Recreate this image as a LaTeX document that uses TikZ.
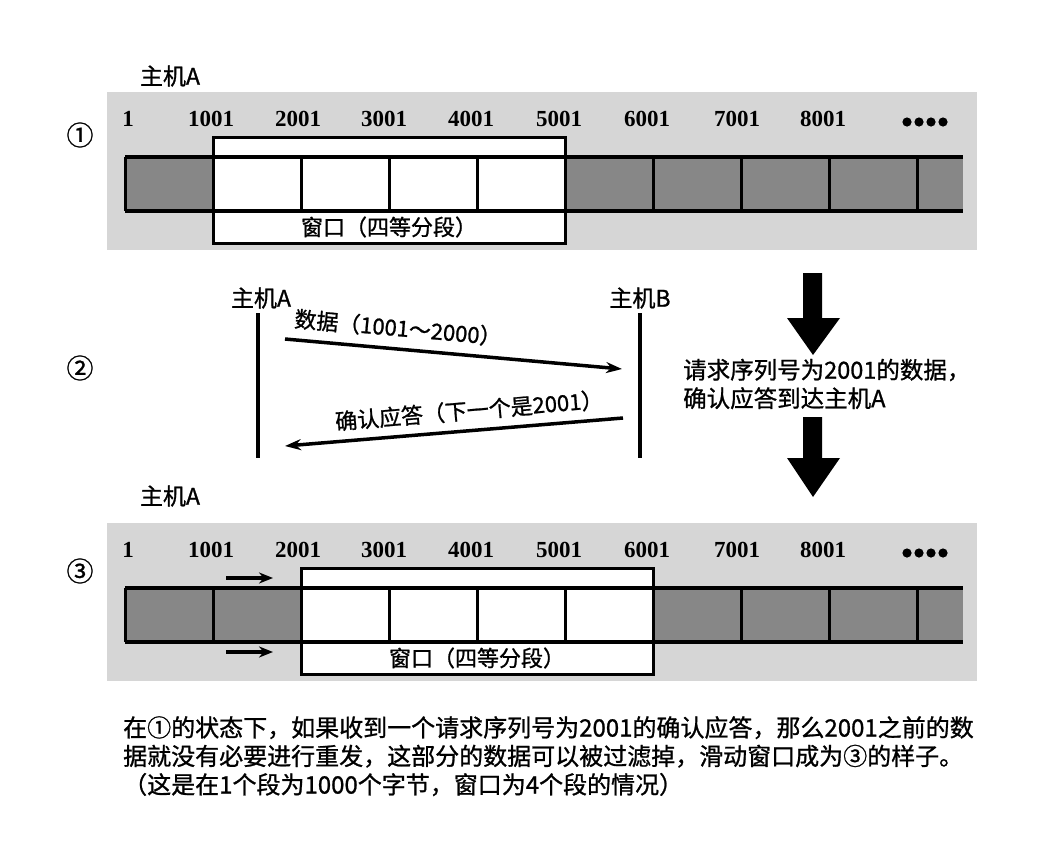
\documentclass[tikz,border=0pt]{standalone}
\usepackage{fontspec}
\setmainfont{Liberation Serif}
\newfontfamily\cjk[FakeBold=1]{Noto Sans CJK SC}
\usetikzlibrary{arrows.meta}
\definecolor{panelgray}{HTML}{D6D6D6}
\definecolor{seggray}{HTML}{878787}

\tikzset{
  numlabel/.style={font=\bfseries\fontsize{23}{23}\selectfont,inner sep=0pt},
  hostlabel/.style={font=\cjk\fontsize{23}{23}\selectfont,inner sep=0pt},
  winlabel/.style={font=\cjk\fontsize{22}{22}\selectfont,inner sep=0pt},
  circnum/.style={font=\cjk\fontsize{27}{27}\selectfont,inner sep=0pt},
  winbox/.style={draw=black,fill=white,line width=3pt,minimum width=352pt,minimum height=106pt,inner sep=0pt},
  stripline/.style={line width=3.5pt},
  hostline/.style={line width=4pt},
  msg/.style={line width=3.5pt,-{Stealth[length=16pt,width=11pt]}},
  slide/.style={line width=3.5pt,-{Stealth[length=14pt,width=11pt]}},
}

\begin{document}
\begin{tikzpicture}[x=1pt,y=-1pt]
  \useasboundingbox (0,0) rectangle (1062,854);

  % panel 1
  \node[circnum] (s1) at (80,135) {①};
  \node[hostlabel] (top-a) at (170,76) {主机A};
  \fill[panelgray] (107,92) rectangle (977,250);
  \fill[seggray] (125,157) rectangle (213,211);
  \fill[seggray] (565,157) rectangle (963,211);
  \node[winbox] (win1) at (389,190) {};
  \draw[stripline] (125,157) -- (963,157) (125,211) -- (963,211);
  \foreach \x in {125,213,...,917} \draw[line width=3pt] (\x,157) -- (\x,211);
  \node[winlabel] (win1-lab) at (389,227) {窗口（四等分段）};
  \foreach \x/\t in {128/1,211/1001,298/2001,384/3001,471/4001,559/5001,647/6001,737/7001,823/8001}
    \node[numlabel] (n1-\t) at (\x,119) {\t};
  \foreach \i in {0,...,3} \fill (907+12*\i,122) circle[radius=4.6pt];

  % panel 2
  \node[circnum] (s2) at (80,368) {②};
  \node[hostlabel] (hA) at (261,298) {主机A};
  \node[hostlabel] (hB) at (640,298) {主机B};
  \draw[hostline] (258,313) coordinate (a-top) -- (258,458) coordinate (a-bot);
  \draw[hostline] (640,313) coordinate (b-top) -- (640,458) coordinate (b-bot);
  \coordinate (d-start) at (285,339);
  \coordinate (d-end) at (622,369);
  \coordinate (k-start) at (623,418);
  \coordinate (k-end) at (285,446);
  \draw[msg] (d-start) -- node[winlabel,sloped,above=9pt,pos=0.33] (d-lab) {数据（1001～2000）} (d-end);
  \draw[msg] (k-start) -- node[winlabel,sloped,above=8pt,pos=0.45] (k-lab) {确认应答（下一个是2001）} (k-end);

  % big arrows
  \fill (803,273) -- (822,273) -- (822,318) -- (840,318) -- (813,355) -- (787,318) -- (803,318) -- cycle;
  \fill (803,417) -- (822,417) -- (822,458) -- (840,458) -- (813,497) -- (787,458) -- (803,458) -- cycle;
  \node[anchor=west,align=left,inner sep=0pt,font=\cjk\fontsize{23.5}{28.5}\selectfont] (note) at (683,384)
    {请求序列号为2001的数据，\\确认应答到达主机A};

  % panel 3
  \node[circnum] (s3) at (80,571) {③};
  \node[hostlabel] (bot-a) at (170,496) {主机A};
  \fill[panelgray] (107,523) rectangle (977,681);
  \fill[seggray] (125,588) rectangle (301,642);
  \fill[seggray] (653,588) rectangle (963,642);
  \node[winbox] (win3) at (477,621) {};
  \draw[stripline] (125,588) -- (963,588) (125,642) -- (963,642);
  \foreach \x in {125,213,...,917} \draw[line width=3pt] (\x,588) -- (\x,642);
  \node[winlabel] (win3-lab) at (477,658) {窗口（四等分段）};
  \foreach \x/\t in {128/1,211/1001,298/2001,384/3001,471/4001,559/5001,647/6001,737/7001,823/8001}
    \node[numlabel] (n3-\t) at (\x,550) {\t};
  \foreach \i in {0,...,3} \fill (907+12*\i,553) circle[radius=4.6pt];
  \coordinate (up-s) at (226,578);
  \coordinate (up-e) at (273,578);
  \coordinate (lo-s) at (226,652);
  \coordinate (lo-e) at (273,652);
  \draw[slide] (up-s) -- (up-e);
  \draw[slide] (lo-s) -- (lo-e);

  % caption
  \node[anchor=north west,align=left,inner sep=0pt,font=\cjk\fontsize{24}{28.5}\selectfont] (caption) at (123,716)
    {在①的状态下，如果收到一个请求序列号为2001的确认应答，那么2001之前的数\\
     据就没有必要进行重发，这部分的数据可以被过滤掉，滑动窗口成为③的样子。\\
     （这是在1个段为1000个字节，窗口为4个段的情况）};
\end{tikzpicture}
\end{document}
